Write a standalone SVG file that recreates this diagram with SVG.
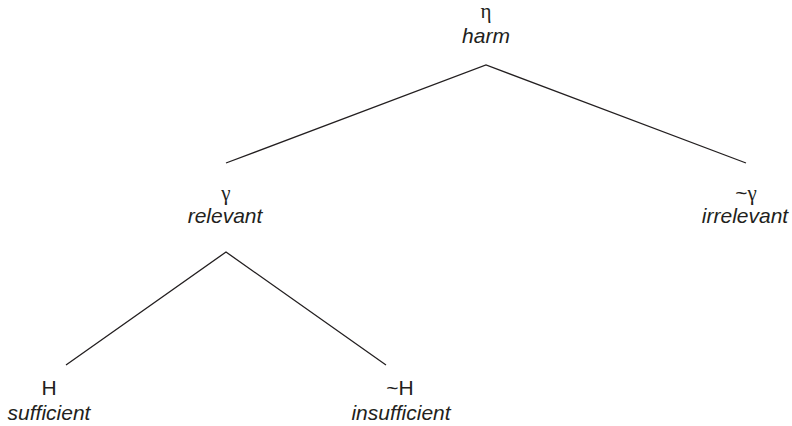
<svg xmlns="http://www.w3.org/2000/svg" width="792" height="426" viewBox="0 0 792 426">
  <style>
    text { font-family: "Liberation Sans", Arial, sans-serif; font-size: 21px; fill: #231f20; text-anchor: middle; }
    .sym { font-family: "Liberation Serif", "Times New Roman", serif; }
    .lbl { font-style: italic; }
    .edge { stroke: #231f20; stroke-width: 1.3; fill: none; }
  </style>
  <rect width="792" height="426" fill="#ffffff"/>
  <g id="connectors">
    <polyline class="edge" points="226,163 486,65 746,163"/>
    <polyline class="edge" points="66,365 226,252 386,365"/>
  </g>
  <g id="harm">
    <text class="sym" x="486" y="18">η</text>
    <text class="lbl" x="486" y="43">harm</text>
  </g>
  <g id="relevant">
    <text class="sym" x="226" y="200">γ</text>
    <text class="lbl" x="225" y="223">relevant</text>
  </g>
  <g id="irrelevant">
    <text x="746" y="200"><tspan>~</tspan><tspan class="sym">γ</tspan></text>
    <text class="lbl" x="745" y="223">irrelevant</text>
  </g>
  <g id="sufficient">
    <text x="49" y="395">H</text>
    <text class="lbl" x="49" y="420">sufficient</text>
  </g>
  <g id="insufficient">
    <text x="400" y="395">~H</text>
    <text class="lbl" x="401" y="420">insufficient</text>
  </g>
</svg>
